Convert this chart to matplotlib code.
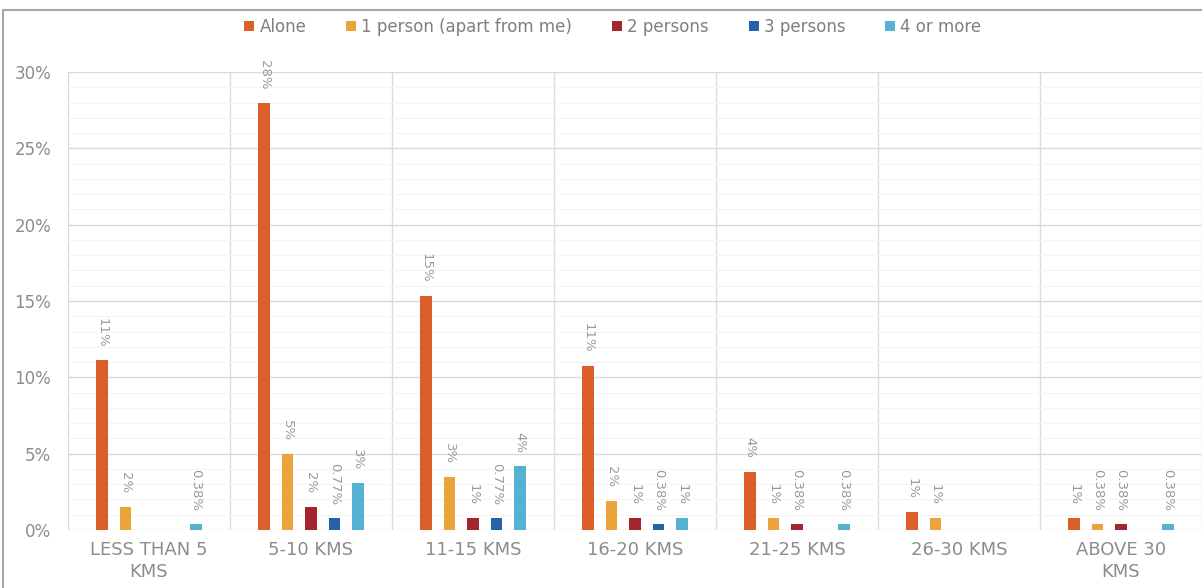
import numpy as np
import matplotlib.pyplot as plt
from matplotlib.lines import Line2D

plt.rcParams['font.family'] = ['DejaVu Sans']

# distance to work vs. number of people travelling with the respondent (% of 261)
categories = ['LESS THAN 5\nKMS', '5-10 KMS', '11-15 KMS', '16-20 KMS',
              '21-25 KMS', '26-30 KMS', 'ABOVE 30\nKMS']
series = ['Alone', '1 person (apart from me)', '2 persons', '3 persons', '4 or more']

alone = [11.11, 27.97, 15.33, 10.73, 3.83, 1.15, 0.77]
one_person = [1.53, 4.98, 3.45, 1.92, 0.77, 0.77, 0.38]
two_persons = [0, 1.53, 0.77, 0.77, 0.38, 0, 0.38]
three_persons = [0, 0.77, 0.77, 0.38, 0, 0, 0]
four_more = [0.38, 3.07, 4.21, 0.77, 0.38, 0, 0.38]

# data labels as printed on the bars
alone_lbl = ['11%', '28%', '15%', '11%', '4%', '1%', '1%']
one_person_lbl = ['2%', '5%', '3%', '2%', '1%', '1%', '0.38%']
two_persons_lbl = ['', '2%', '1%', '1%', '0.38%', '', '0.38%']
three_persons_lbl = ['', '0.77%', '0.77%', '0.38%', '', '', '']
four_more_lbl = ['0.38%', '3%', '4%', '1%', '0.38%', '', '0.38%']

values = [alone, one_person, two_persons, three_persons, four_more]
labels = [alone_lbl, one_person_lbl, two_persons_lbl, three_persons_lbl, four_more_lbl]
colors = ['#DC5F2A', '#EBA43A', '#A3262F', '#2862A6', '#56B2D2']

fig = plt.figure(figsize=(12.02, 5.88), dpi=100)
ax = fig.add_axes([68/1202, 1-530/588, 1-68/1202, (530-72)/588])

x = np.arange(len(categories))
step = 0.145
width = 0.07
for i, (vals, lbls, c, name) in enumerate(zip(values, labels, colors, series)):
    pos = x + (i - 2) * step
    ax.bar(pos, vals, width=width, color=c, label=name, zorder=3)
    for xp, v, t in zip(pos, vals, lbls):
        if t:
            ax.annotate(t, (xp, v), xytext=(0, 9.5), textcoords='offset points',
                        rotation=-90, ha='center', va='bottom', fontsize=9.5,
                        color='#9a9a9a', annotation_clip=False)

ax.set_xlim(-0.5, len(categories) - 0.5)
ax.set_ylim(0, 30)
ax.set_yticks(np.arange(0, 31, 5))
ax.set_yticklabels([f'{t}%' for t in range(0, 31, 5)])
ax.set_yticks(np.arange(0, 31, 1), minor=True)
ax.grid(axis='y', which='major', color='#d9d9d9', lw=1, zorder=0)
ax.grid(axis='y', which='minor', color='#f4f4f4', lw=0.8, zorder=0)
for b in np.arange(-0.5, len(categories), 1):
    ax.axvline(b, color='#dcdcdc', lw=1, zorder=1)

ax.set_xticks(x)
ax.set_xticklabels(categories, fontsize=13, color='#8c8c8c', linespacing=1.3)
ax.tick_params(axis='y', which='both', length=0, labelsize=12, labelcolor='#8c8c8c', pad=12)
ax.tick_params(axis='x', length=0, pad=8)
for s in ax.spines.values():
    s.set_visible(False)

fig.legend(loc='upper center', bbox_to_anchor=(0.51, 0.995), ncol=5, frameon=False,
           fontsize=12, labelcolor='#7f7f7f', handlelength=0.6, handleheight=0.6,
           handletextpad=0.3, columnspacing=2.4)

# outer chart frame
fig.add_artist(Line2D([3/1202, 1], [1-10/588, 1-10/588], color='#a6a6a6', lw=1.5))
fig.add_artist(Line2D([3/1202, 3/1202], [0, 1-10/588], color='#a6a6a6', lw=1.5))

fig.savefig('out.png', dpi=100)
